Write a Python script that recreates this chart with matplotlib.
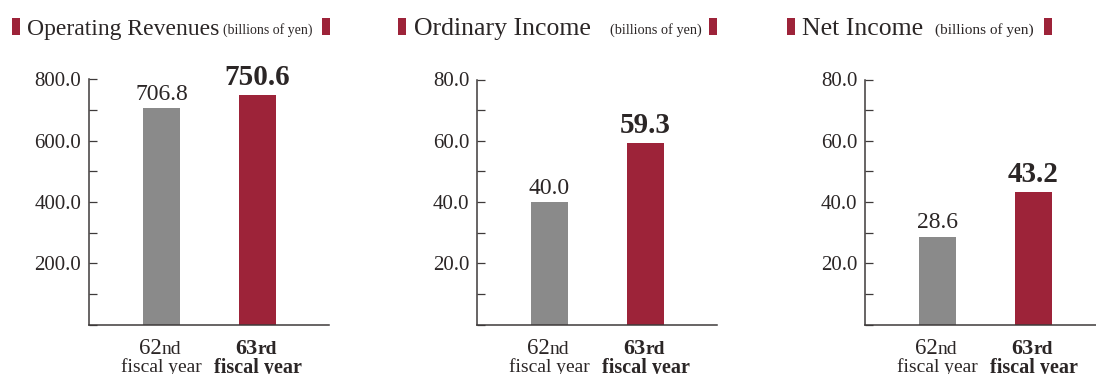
import matplotlib
matplotlib.use("Agg")
import matplotlib.pyplot as plt
from matplotlib.patches import Rectangle
from matplotlib.ticker import MultipleLocator, FixedLocator

# ---- data ----
titles = ["Operating Revenues", "Ordinary Income", "Net Income"]
unit_label = "(billions of yen)"
year_nums = ["62", "63"]
year_suffix = ["nd", "rd"]
year_text = "fiscal year"
revenues = [706.8, 750.6]
ordinary_income = [40.0, 59.3]
net_income = [28.6, 43.2]
series = [revenues, ordinary_income, net_income]
y_max = [800, 80, 80]
y_major = [[200, 400, 600, 800], [20, 40, 60, 80], [20, 40, 60, 80]]
y_minor_step = [100, 10, 10]

# ---- style ----
W, H = 1096, 374
GRAY = "#8a8a8a"
RED = "#9d2339"
TXT = "#2b2626"
AX = "#3e3a3a"
SERIF = "Liberation Serif"
NUMF = "Liberation Serif"

fig = plt.figure(figsize=(W / 100, H / 100), dpi=100)

def fx(x):
    return x / W

def fy(y):
    return 1 - y / H

ax_left_px = [89, 477, 865]
ax_w_px = 240
ax_top_px, ax_bot_px = 79.5, 324.5

# title layout (pixel positions)
mark_l = [12, 398, 787]
title_x = [27, 414, 802]
unit_x = [223, 610, 935]
mark_r = [322, 709, 1044]
title_fs = [17, 18.5, 18.5]
unit_fs = [10, 10.3, 11]

px2pt = 0.72

for k in range(3):
    ax = fig.add_axes([fx(ax_left_px[k]), fy(ax_bot_px), ax_w_px / W,
                       (ax_bot_px - ax_top_px) / H])
    vals = series[k]
    xs = list(range(len(vals)))
    ax.bar(xs, vals, width=37 / 96, color=[GRAY, RED], zorder=2)
    ax.set_xlim(-72.5 / 96, -72.5 / 96 + ax_w_px / 96)
    ax.set_ylim(0, y_max[k])
    for s in ["top", "right"]:
        ax.spines[s].set_visible(False)
    for s in ["left", "bottom"]:
        ax.spines[s].set_color(AX)
        ax.spines[s].set_linewidth(1.1)
    ax.set_xticks([])
    ax.yaxis.set_major_locator(FixedLocator(y_major[k]))
    ax.yaxis.set_minor_locator(MultipleLocator(y_minor_step[k]))
    ax.set_yticklabels([f"{v:.1f}" for v in y_major[k]])
    ax.tick_params(axis="y", which="both", direction="in", length=5.5,
                   width=0.9, color=AX, pad=5.5)
    for lab in ax.get_yticklabels():
        lab.set_fontfamily(NUMF)
        lab.set_fontsize(15)
        lab.set_color(TXT)

    # value labels
    for i, v in enumerate(vals):
        bold = (i == 1)
        ax.annotate(f"{v:.1f}", xy=(i, v), xytext=(0, (10 if bold else 8.5) * px2pt),
                    textcoords="offset points", ha="center", va="baseline",
                    fontfamily=NUMF, fontsize=21 if bold else 17,
                    fontweight="bold" if bold else "normal", color=TXT)

    # x labels
    for i in xs:
        bold = (i == 1)
        fw = "bold" if bold else "normal"
        ax.annotate(year_nums[i], xy=(i, 0), xycoords="data",
                    xytext=(0.5 * px2pt, -29.5 * px2pt), textcoords="offset points",
                    ha="right", va="baseline", fontfamily=NUMF,
                    fontsize=16 if bold else 16.5,
                    fontweight=fw, color=TXT, annotation_clip=False)
        ax.annotate(year_suffix[i], xy=(i, 0), xycoords="data",
                    xytext=(0.5 * px2pt, -29.5 * px2pt), textcoords="offset points",
                    ha="left", va="baseline", fontfamily=SERIF, fontsize=14,
                    fontweight=fw, color=TXT, annotation_clip=False)
        ax.annotate(year_text, xy=(i, 0), xycoords="data",
                    xytext=(0, -48 * px2pt), textcoords="offset points",
                    ha="center", va="baseline", fontfamily=SERIF,
                    fontsize=14.5 if bold else 14, fontweight=fw, color=TXT,
                    annotation_clip=False)

    # title
    fig.add_artist(Rectangle((fx(mark_l[k]), fy(35)), 7.5 / W, 17.5 / H,
                             transform=fig.transFigure, color=RED, lw=0))
    fig.add_artist(Rectangle((fx(mark_r[k]), fy(35)), 7.5 / W, 17.5 / H,
                             transform=fig.transFigure, color=RED, lw=0))
    fig.text(fx(title_x[k]), fy(35), titles[k], fontfamily=SERIF,
             fontsize=title_fs[k], color=TXT, ha="left", va="baseline")
    fig.text(fx(unit_x[k]), fy(34), unit_label, fontfamily=SERIF,
             fontsize=unit_fs[k], color=TXT, ha="left", va="baseline")

fig.savefig("out.png", dpi=100, facecolor="white")
